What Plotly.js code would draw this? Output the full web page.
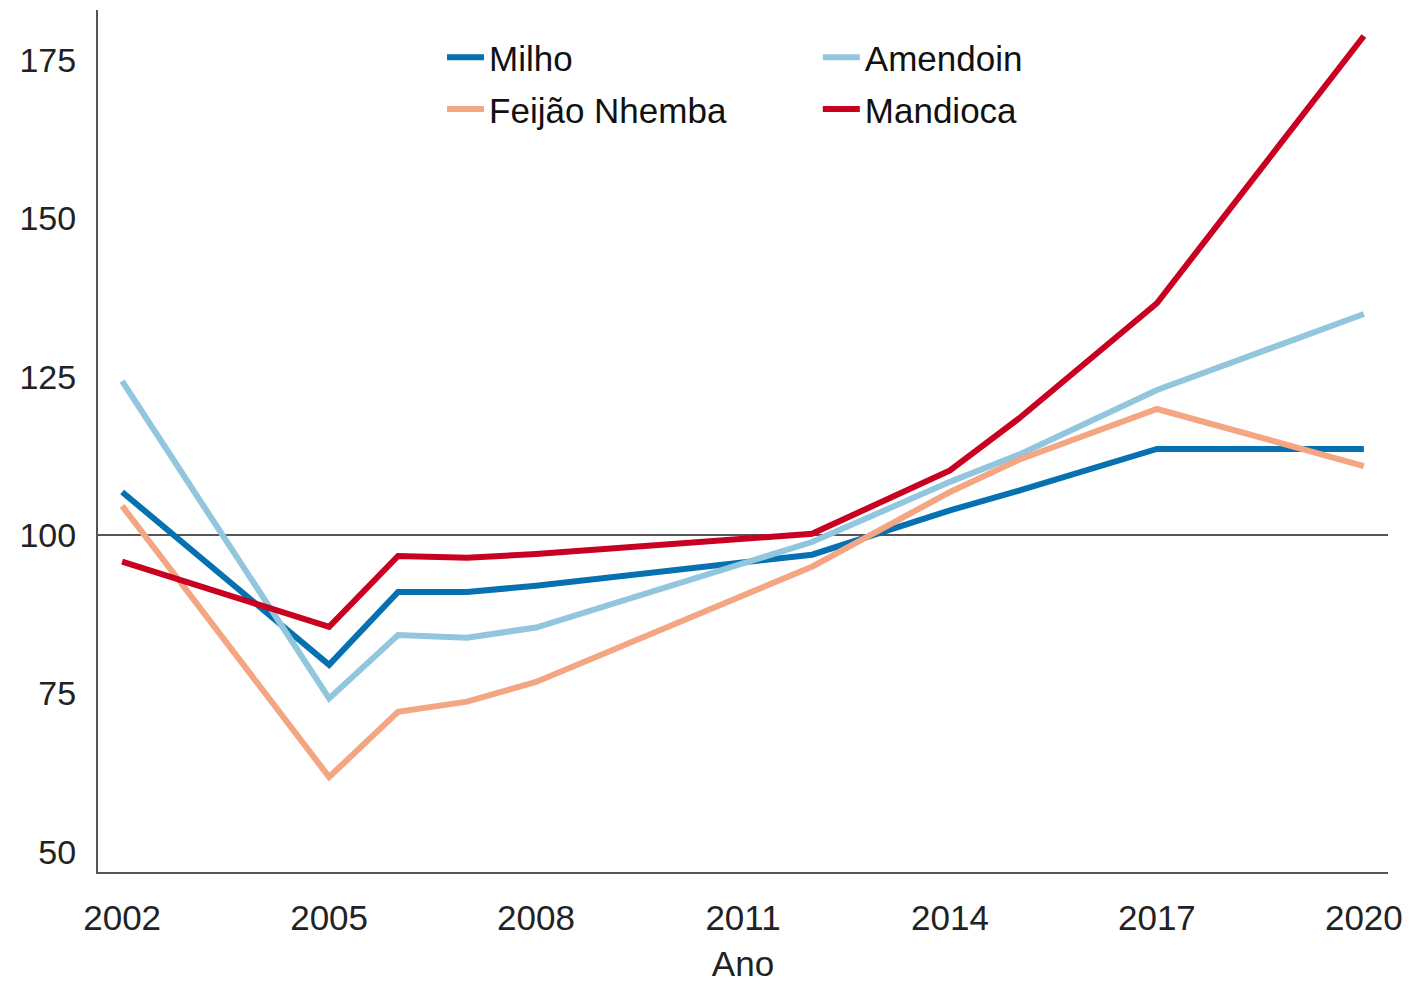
<!DOCTYPE html>
<html>
<head>
<meta charset="utf-8">
<script src="https://cdn.plot.ly/plotly-3.0.1.min.js"></script>
<style>html,body{margin:0;padding:0;background:#fff;}#chart{width:1409px;height:983px;}</style>
</head>
<body>
<div id="chart"></div>
<script>
const years = [2002, 2005, 2006, 2007, 2008, 2012, 2014, 2015, 2017, 2020];
const milho = [106.8, 79.5, 91.0, 91.0, 92.0, 96.9, 103.9, 107.0, 113.6, 113.6];
const amendoin = [124.3, 74.2, 84.2, 83.8, 85.4, 98.9, 108.4, 112.7, 122.9, 134.9];
const feijao = [104.6, 61.8, 72.1, 73.7, 76.8, 95.0, 106.8, 111.9, 119.9, 110.9];
const mandioca = [95.8, 85.5, 96.7, 96.4, 97.0, 100.2, 110.2, 118.4, 136.6, 178.8];
const seriesNames = ['Milho', 'Amendoin', 'Feijão Nhemba', 'Mandioca'];
const seriesColors = ['#0571b0', '#92c5de', '#f4a582', '#ca0020'];
const yTicks = [50, 75, 100, 125, 150, 175];
const xTicks = [2002, 2005, 2008, 2011, 2014, 2017, 2020];

const values = [milho, amendoin, feijao, mandioca];
const legendIds = ['legend', 'legend2', 'legend3', 'legend4'];
const traces = values.map((v, i) => ({
  x: years, y: v, type: 'scatter', mode: 'lines', name: seriesNames[i],
  line: {color: seriesColors[i], width: 6}, legend: legendIds[i]
}));

const font = {family: 'Liberation Sans, Arial, sans-serif', size: 34, color: '#222'};
const xfont = {family: 'Liberation Sans, Arial, sans-serif', size: 35, color: '#222'};
const legFont = {family: 'Liberation Sans, Arial, sans-serif', size: 35, color: '#111'};
function leg(x, y) {
  return {x: x, y: y, xref: 'paper', yref: 'paper', xanchor: 'left', yanchor: 'middle',
    bgcolor: 'rgba(0,0,0,0)', borderwidth: 0, font: legFont, itemwidth: 37};
}
const layout = {
  width: 1409, height: 983,
  margin: {l: 98, r: 21, t: 10, b: 111},
  paper_bgcolor: '#fff', plot_bgcolor: '#fff',
  showlegend: true,
  xaxis: {
    range: [2001.65, 2020.35], tickvals: xTicks, ticktext: xTicks.map(String),
    showgrid: false, zeroline: false, showline: true, linecolor: '#555', linewidth: 2,
    ticks: 'outside', ticklen: 14, tickcolor: 'rgba(0,0,0,0)', tickfont: xfont,
    title: {text: 'Ano', font: xfont, standoff: 22}
  },
  yaxis: {
    range: [46.8, 182.9], tickvals: yTicks, ticktext: yTicks.map(String),
    showgrid: false, zeroline: false, showline: true, linecolor: '#555', linewidth: 2,
    ticks: 'outside', ticklen: 13, tickcolor: 'rgba(0,0,0,0)', tickfont: font
  },
  shapes: [{type: 'line', xref: 'paper', x0: 0, x1: 1, yref: 'y', y0: 100, y1: 100,
    line: {color: '#555', width: 2}, layer: 'below'}],
  legend: leg(0.2667, 0.945),
  legend2: leg(0.558, 0.945),
  legend3: leg(0.2667, 0.885),
  legend4: leg(0.558, 0.885)
};
Plotly.newPlot('chart', traces, layout, {displayModeBar: false, staticPlot: true});
</script>
</body>
</html>
